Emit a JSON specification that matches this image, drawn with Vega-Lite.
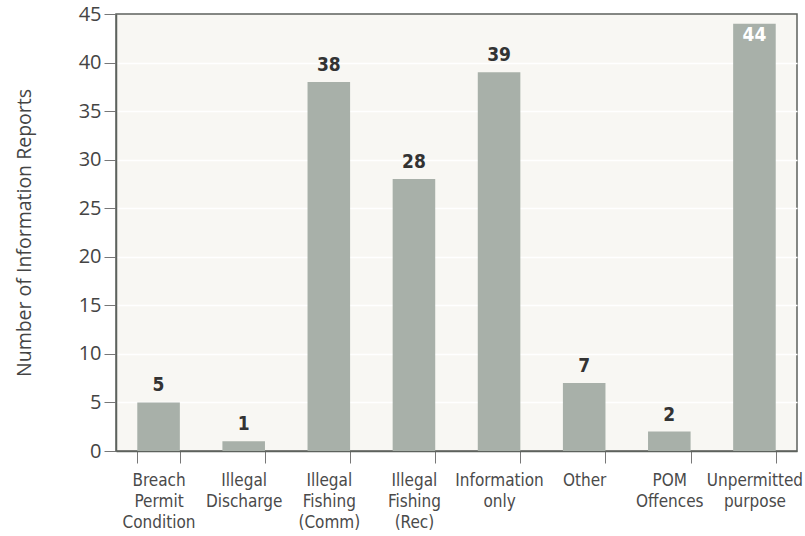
{
  "$schema": "https://vega.github.io/schema/vega-lite/v6.json",
  "autosize": "none",
  "width": 681,
  "height": 437,
  "padding": {"left": 116, "top": 14, "right": 8, "bottom": 85},
  "background": "white",
  "config": {
    "view": {"fill": "#f8f7f3", "stroke": "#5d625d", "strokeWidth": 1.5}
  },
  "data": {
    "values": [
      {"category": "Breach Permit Condition", "count": 5},
      {"category": "Illegal Discharge", "count": 1},
      {"category": "Illegal Fishing (Comm)", "count": 38},
      {"category": "Illegal Fishing (Rec)", "count": 28},
      {"category": "Information only", "count": 39},
      {"category": "Other", "count": 7},
      {"category": "POM Offences", "count": 2},
      {"category": "Unpermitted purpose", "count": 44}
    ]
  },
  "encoding": {
    "x": {
      "field": "category",
      "type": "nominal",
      "sort": null,
      "scale": {"paddingInner": 0.5, "paddingOuter": 0.25},
      "axis": {
        "title": null,
        "labelAngle": 0,
        "labelExpr": "isValid(datum.value) ? split(datum.value, ' ') : ''",
        "labelFont": "Liberation Sans Narrow, DejaVu Sans Condensed, sans-serif",
        "labelFontSize": 17,
        "labelLineHeight": 21,
        "labelColor": "#4a4a4a",
        "labelBaseline": "top",
        "labelPadding": 9,
        "tickBand": "extent",
        "tickSize": 12,
        "tickColor": "#777",
        "tickWidth": 1,
        "domainColor": "#5d625d",
        "domainWidth": 1.5
      }
    },
    "y": {
      "field": "count",
      "type": "quantitative",
      "scale": {"domain": [0, 45], "nice": false},
      "axis": {
        "values": [0, 5, 10, 15, 20, 25, 30, 35, 40, 45],
        "grid": true,
        "gridColor": "white",
        "gridWidth": 1.5,
        "gridOpacity": {"condition": {"test": "datum.value == 0 || datum.value == 45", "value": 0}, "value": 1},
        "tickSize": 12,
        "tickColor": "#777",
        "labelPadding": 3,
        "labelFont": "Open Sans",
        "labelFontSize": 20,
        "labelColor": "#444",
        "domainColor": "#5d625d",
        "domainWidth": 1.5,
        "title": "Number of Information Reports",
        "titleFont": "Open Sans",
        "titleFontSize": 19.5,
        "titleFontWeight": "normal",
        "titleColor": "#444",
        "titlePadding": 44
      }
    }
  },
  "layer": [
    {
      "mark": {"type": "bar", "color": "#a8b0a9"}
    },
    {
      "transform": [{"filter": "datum.count < 44"}],
      "mark": {
        "type": "text",
        "baseline": "alphabetic",
        "dy": -11,
        "font": "Liberation Sans Narrow, DejaVu Sans Condensed, sans-serif",
        "fontWeight": "bold",
        "fontSize": 19,
        "color": "#333"
      },
      "encoding": {"text": {"field": "count", "type": "quantitative"}}
    },
    {
      "transform": [{"filter": "datum.count >= 44"}],
      "mark": {
        "type": "text",
        "baseline": "top",
        "dy": 2,
        "font": "Liberation Sans Narrow, DejaVu Sans Condensed, sans-serif",
        "fontWeight": "bold",
        "fontSize": 19,
        "color": "white"
      },
      "encoding": {"text": {"field": "count", "type": "quantitative"}}
    }
  ]
}
